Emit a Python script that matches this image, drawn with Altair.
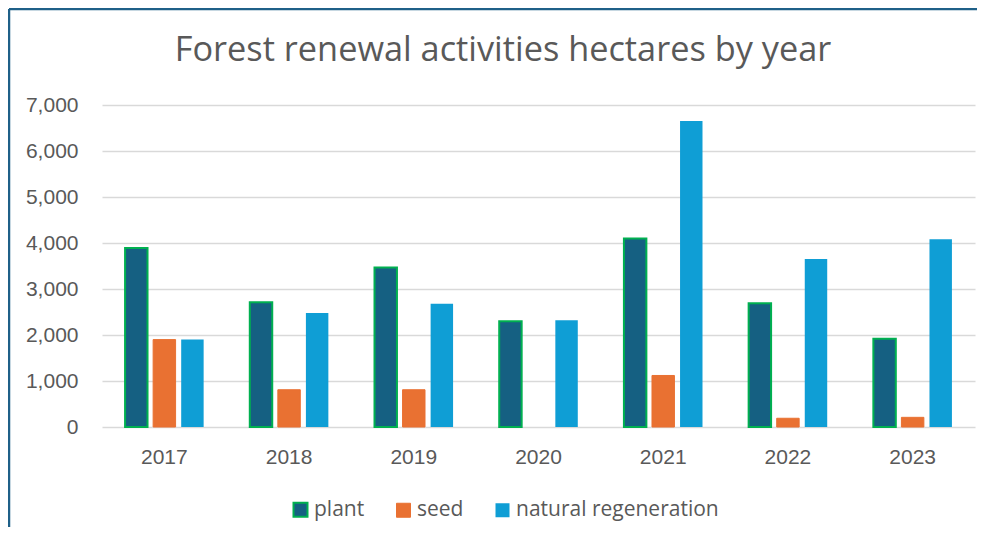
import altair as alt
import pandas as pd

years = ["2017", "2018", "2019", "2020", "2021", "2022", "2023"]
plant = [3890, 2710, 3465, 2300, 4100, 2690, 1920]
seed = [1900, 810, 810, 0, 1120, 190, 210]
natural = [1900, 2480, 2680, 2320, 6650, 3650, 4080]
series = ["plant", "seed", "natural regeneration"]
colors = ["#156082", "#E97132", "#0F9ED5"]
strokes = ["#00B050", "#E97132", "#0F9ED5"]
title_text = "Forest renewal activities hectares by year"
y_ticks = [0, 1000, 2000, 3000, 4000, 5000, 6000, 7000]

rows = []
for i, yr in enumerate(years):
    for s, vals in zip(series, [plant, seed, natural]):
        rows.append({"year": yr, "series": s, "value": vals[i]})
df = pd.DataFrame(rows)

W, H = 873, 322
TXT = "#595959"

legend_cfg = dict(
    title=None, orient="none", legendX=188, legendY=394, direction="horizontal",
    symbolType="square", symbolSize=196, labelFontSize=21, labelFont="Open Sans",
    labelColor=TXT, columnPadding=28, labelOffset=3, labelLimit=400,
)

bars = alt.Chart(df).mark_bar().encode(
    x=alt.X("year:N", sort=years,
            scale=alt.Scale(paddingInner=0.37, paddingOuter=0.185),
            axis=alt.Axis(title=None, labelAngle=0, domain=False, ticks=False,
                          labelFont="Liberation Sans", labelFontSize=21,
                          labelColor=TXT, labelPadding=19)),
    xOffset=alt.XOffset("series:N", sort=series, scale=alt.Scale(paddingInner=0.2)),
    y=alt.Y("value:Q", scale=alt.Scale(domain=[0, 7000]),
            axis=alt.Axis(title=None, values=y_ticks, format=",.0f", domain=False,
                          ticks=False, labelFont="Liberation Sans", labelFontSize=21,
                          labelColor=TXT, labelPadding=24, gridColor="#d9d9d9",
                          gridWidth=1.5)),
    color=alt.Color("series:N", sort=series,
                    scale=alt.Scale(domain=series, range=colors),
                    legend=alt.Legend(**legend_cfg)),
    stroke=alt.Stroke("series:N", sort=series,
                      scale=alt.Scale(domain=series, range=strokes),
                      legend=alt.Legend(**legend_cfg)),
    strokeWidth=alt.StrokeWidth("series:N", sort=series,
                                scale=alt.Scale(domain=series, range=[2, 0, 0]),
                                legend=alt.Legend(**legend_cfg)),
).transform_filter(alt.datum.value > 0)

one = pd.DataFrame({"t": [title_text]})

title = alt.Chart(one).mark_text(
    font="Open Sans", fontSize=34.3, color=TXT, align="center", baseline="alphabetic"
).encode(x=alt.value(401), y=alt.value(-44), text="t:N")

border_left = alt.Chart(one).mark_rule(color="#1f6088", strokeWidth=2.5).encode(
    x=alt.value(-93), y=alt.value(-96), y2=alt.value(H + 110)
)
border_top = alt.Chart(one).mark_rule(color="#1f6088", strokeWidth=2.5).encode(
    x=alt.value(-93), x2=alt.value(W + 20), y=alt.value(-96)
)

chart = alt.layer(bars, title, border_left, border_top).properties(
    width=W, height=H,
    padding={"left": 94, "top": 97, "right": 2, "bottom": 100},
    autosize=alt.AutoSizeParams(type="none"),
).configure_view(stroke=None)

chart.save("out.html", embed_options={"renderer": "svg", "actions": False})
